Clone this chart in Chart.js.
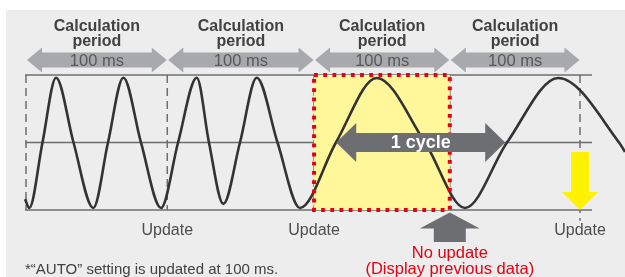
<!DOCTYPE html>
<html>
<head>
<meta charset="utf-8">
<script src="https://cdn.jsdelivr.net/npm/chart.js@4.4.1/dist/chart.umd.min.js"></script>
<style>
  html, body { margin: 0; padding: 0; background: #fff; }
  canvas { display: block; }
</style>
</head>
<body>
<canvas id="timing" width="625" height="277"></canvas>
<script>
// x = time in ms, y = signal level (-1 .. 1)
const periodBounds = [0, 102, 208, 306, 400];
const periodTitle = ["Calculation", "period"];
const periodLabel = "100 ms";
const updateAt = [102, 208, 400];
const noUpdateAt = 306;
const cycleSpan = [224, 346];
const levels = [1, 0, -1];
const levelSpan = [-0.7, 408.7];

const waveT = [-0.7, 2.4, 11.9, 21.7, 34.3, 48.6, 59.2, 70.3, 83.0, 97.5,
               109.8, 123.3, 132.1, 142.5, 154.5, 166.6, 181.6, 197.8,
               223.8, 253.2, 288.1, 317.0, 347.3, 384.3, 428.2, 432.5];
const waveV = [-0.84, -0.97, 0, 0.96, 0, -0.97, 0, 0.96, 0, -0.97,
               0, 0.96, 0, -0.91, 0, 0.96, 0, -0.97,
               0, 0.955, 0, -0.97, 0, 0.955, 0, -0.14];

const LINE = '#6d6e71';

const pts = (xs, ys) => xs.map((x, i) => ({x: x, y: ys[i]}));

const datasets = [{
  data: pts(waveT, waveV),
  borderColor: '#333333',
  borderWidth: 2.6,
  cubicInterpolationMode: 'monotone',
  pointRadius: 0
}];
periodBounds.forEach((b, i) => {
  datasets.push({
    data: [{x: b, y: 1}, {x: b, y: i === periodBounds.length - 1 ? -1.16 : -1}],
    borderColor: LINE,
    borderWidth: 1.5,
    borderDash: [8, 5],
    pointRadius: 0
  });
});
levels.forEach(l => {
  datasets.push({
    data: [{x: levelSpan[0], y: l}, {x: levelSpan[1], y: l}],
    borderColor: LINE,
    borderWidth: 1.6,
    pointRadius: 0
  });
});

function doubleArrow(ctx, x1, x2, yc, shaft, head, len, color) {
  ctx.beginPath();
  ctx.moveTo(x1, yc);
  ctx.lineTo(x1 + len, yc - head);
  ctx.lineTo(x1 + len, yc - shaft);
  ctx.lineTo(x2 - len, yc - shaft);
  ctx.lineTo(x2 - len, yc - head);
  ctx.lineTo(x2, yc);
  ctx.lineTo(x2 - len, yc + head);
  ctx.lineTo(x2 - len, yc + shaft);
  ctx.lineTo(x1 + len, yc + shaft);
  ctx.lineTo(x1 + len, yc + head);
  ctx.closePath();
  ctx.fillStyle = color;
  ctx.fill();
}

// vertical arrow, tip at (x, tipY), dir = 1 points down, -1 points up
function vArrow(ctx, x, tipY, tailY, headLen, shaft, head, color) {
  const dir = tailY < tipY ? 1 : -1;
  const base = tipY - dir * headLen;
  ctx.beginPath();
  ctx.moveTo(x, tipY);
  ctx.lineTo(x + head, base);
  ctx.lineTo(x + shaft, base);
  ctx.lineTo(x + shaft, tailY);
  ctx.lineTo(x - shaft, tailY);
  ctx.lineTo(x - shaft, base);
  ctx.lineTo(x - head, base);
  ctx.closePath();
  ctx.fillStyle = color;
  ctx.fill();
}

const overlay = {
  id: 'overlay',
  beforeDraw(chart) {
    const ctx = chart.ctx;
    ctx.save();
    ctx.fillStyle = '#ffffff';
    ctx.fillRect(0, 0, chart.width, chart.height);
    ctx.fillStyle = '#ededed';
    ctx.fillRect(6, 10, chart.width - 6, chart.height - 10);
    ctx.restore();
  },
  beforeDatasetDraw(chart, args) {
    if (args.index !== 0) return;
    const {x, y} = chart.scales;
    const ctx = chart.ctx;
    ctx.save();
    ctx.fillStyle = '#fff799';
    const x1 = x.getPixelForValue(periodBounds[2]), x2 = x.getPixelForValue(periodBounds[3]);
    const y1 = y.getPixelForValue(1), y2 = y.getPixelForValue(-1);
    ctx.fillRect(x1, y1, x2 - x1, y2 - y1);
    ctx.restore();
  },
  afterDatasetsDraw(chart) {
    const {x, y} = chart.scales;
    const ctx = chart.ctx;
    ctx.save();

    // red dotted frame round the period with no update
    const x1 = x.getPixelForValue(periodBounds[2]), x2 = x.getPixelForValue(periodBounds[3]);
    const y1 = y.getPixelForValue(1), y2 = y.getPixelForValue(-1);
    ctx.strokeStyle = '#e60012';
    ctx.lineWidth = 4;
    ctx.setLineDash([3.8, 5.4]);
    ctx.strokeRect(x1, y1, x2 - x1, y2 - y1);
    ctx.setLineDash([]);

    // period arrows and titles
    ctx.textAlign = 'center';
    for (let i = 0; i < periodBounds.length - 1; i++) {
      const a = x.getPixelForValue(periodBounds[i]) + 1;
      const b = x.getPixelForValue(periodBounds[i + 1]) - 0.5;
      const mid = (a + b) / 2;
      doubleArrow(ctx, a, b, 60, 7.5, 12.5, 15, '#a7a9ac');
      ctx.fillStyle = '#58595b';
      ctx.font = '16.5px "Liberation Sans", Arial, sans-serif';
      ctx.fillText(periodLabel, mid, 66);
      ctx.fillStyle = '#414042';
      ctx.font = 'bold 16px "Liberation Sans", Arial, sans-serif';
      ctx.fillText(periodTitle[0], mid, 31);
      ctx.fillText(periodTitle[1], mid, 45.5);
    }

    // one cycle of the slow signal
    const c1 = x.getPixelForValue(cycleSpan[0]), c2 = x.getPixelForValue(cycleSpan[1]);
    const yc = y.getPixelForValue(0);
    doubleArrow(ctx, c1, c2, yc, 9.5, 19.5, 20, '#6d6e71');
    ctx.fillStyle = '#ffffff';
    ctx.font = 'bold 18px "Liberation Sans", Arial, sans-serif';
    ctx.fillText('1 cycle', (c1 + c2) / 2, yc + 6);

    // update markers
    const yb = y.getPixelForValue(-1);
    ctx.fillStyle = '#4d4d4f';
    ctx.font = '16px "Liberation Sans", Arial, sans-serif';
    updateAt.forEach(t => ctx.fillText('Update', x.getPixelForValue(t), 235));

    const yu = x.getPixelForValue(updateAt[updateAt.length - 1]);
    vArrow(ctx, yu, yb, y.getPixelForValue(-0.14), 18, 9, 18, '#fff200');

    const xn = x.getPixelForValue(noUpdateAt);
    vArrow(ctx, xn, yb + 2.5, 242, 16, 16, 30, '#6d6e71');
    ctx.fillStyle = '#e60012';
    ctx.font = '16.5px "Liberation Sans", Arial, sans-serif';
    ctx.fillText('No update', xn, 258);
    ctx.fillText('(Display previous data)', xn, 274);

    ctx.textAlign = 'left';
    ctx.fillStyle = '#414042';
    ctx.font = '15px "Liberation Sans", Arial, sans-serif';
    ctx.fillText('*\u201CAUTO\u201D setting is updated at 100 ms.', 25, 274);
    ctx.restore();
  }
};

new Chart(document.getElementById('timing'), {
  type: 'line',
  data: {datasets: datasets},
  options: {
    responsive: false,
    animation: false,
    layout: {padding: 0},
    plugins: {legend: {display: false}, tooltip: {enabled: false}},
    scales: {
      x: {type: 'linear', display: false, min: -18.77, max: 432.5},
      y: {type: 'linear', display: false, min: -1.993, max: 2.111}
    }
  },
  plugins: [overlay]
});
</script>
</body>
</html>
